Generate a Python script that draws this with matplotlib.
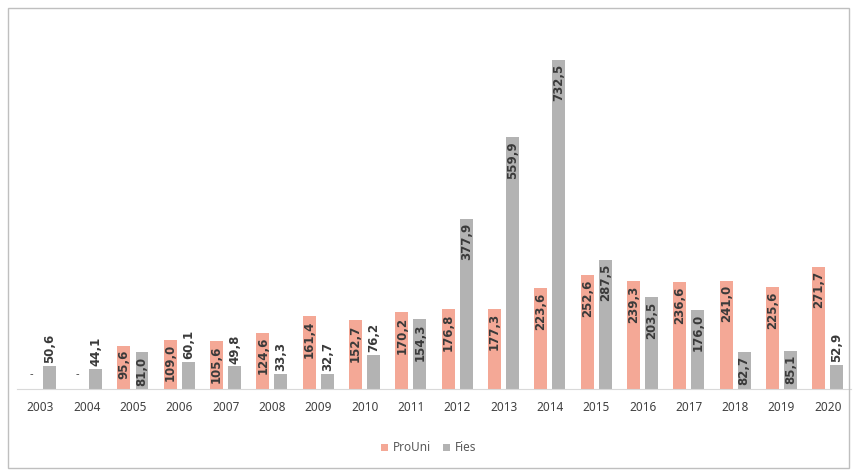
# Gráfico de barras agrupadas: ProUni x Fies
import numpy as np
import matplotlib.pyplot as plt
from matplotlib.patches import Rectangle

plt.rcParams['font.family'] = ['Noto Sans', 'DejaVu Sans']

# dados
anos = ['2003', '2004', '2005', '2006', '2007', '2008', '2009', '2010', '2011',
        '2012', '2013', '2014', '2015', '2016', '2017', '2018', '2019', '2020']
prouni = [0, 0, 95.6, 109.0, 105.6, 124.6, 161.4, 152.7, 170.2,
          176.8, 177.3, 223.6, 252.6, 239.3, 236.6, 241.0, 225.6, 271.7]
fies = [50.6, 44.1, 81.0, 60.1, 49.8, 33.3, 32.7, 76.2, 154.3,
        377.9, 559.9, 732.5, 287.5, 203.5, 176.0, 82.7, 85.1, 52.9]
prouni_txt = ['-', '-'] + [f'{v:.1f}'.replace('.', ',') for v in prouni[2:]]
fies_txt = [f'{v:.1f}'.replace('.', ',') for v in fies]

cor_prouni = '#F4A896'
cor_fies = '#B3B3B3'

fig = plt.figure(figsize=(8.57, 4.73), dpi=100)
ax = fig.add_axes([0.02, 0.178, 0.973, 0.76])

x = np.arange(len(anos))
w = 0.28
off = 0.195
b1 = ax.bar(x - off, prouni, w, color=cor_prouni, label='ProUni')
b2 = ax.bar(x + off, fies, w, color=cor_fies, label='Fies')

ax.set_xlim(-0.5, len(anos) - 0.5)
ax.set_ylim(0, 800)

# rótulos dentro das barras (acima da barra se não couber)
rotulos = []
for bars, txts in ((b1, prouni_txt), (b2, fies_txt)):
    for b, t in zip(bars, txts):
        h = b.get_height()
        xc = b.get_x() + b.get_width() / 2
        if t == '-':
            ax.annotate(t, (xc, 0), xytext=(0, 10),
                        textcoords='offset points', ha='center', va='center',
                        fontsize=8, color='#404040')
        else:
            a = ax.annotate(t, (xc, h), xytext=(0, -3),
                            textcoords='offset points', ha='center', va='top',
                            rotation=90, fontsize=8.5, fontweight='bold',
                            family=['DejaVu Sans'], color='#3a3a3a')
            rotulos.append((a, b))

fig.canvas.draw()
r = fig.canvas.get_renderer()
for a, b in rotulos:
    if a.get_window_extent(r).height + 6 > b.get_window_extent(r).height:
        a.set_va('bottom')
        a.xyann = (0, 2)

ax.set_xticks(x)
ax.set_xticklabels(anos, fontsize=8.5, color='#404040')
ax.tick_params(axis='x', length=0, pad=9)
ax.set_yticks([])
for s in ['top', 'right', 'left']:
    ax.spines[s].set_visible(False)
ax.spines['bottom'].set_color('#D9D9D9')

fig.legend(loc='center', bbox_to_anchor=(0.5, 0.053), ncol=2, frameon=False,
           fontsize=8.5, handlelength=0.6, handleheight=0.6, handletextpad=0.4,
           columnspacing=1.0, labelcolor='#595959')

# moldura externa
fig.patches.append(Rectangle((8 / 857, 5 / 473), 841 / 857, 460 / 473,
                             transform=fig.transFigure, fill=False,
                             edgecolor='#BFBFBF', linewidth=1))

fig.savefig('out.png', dpi=100)
